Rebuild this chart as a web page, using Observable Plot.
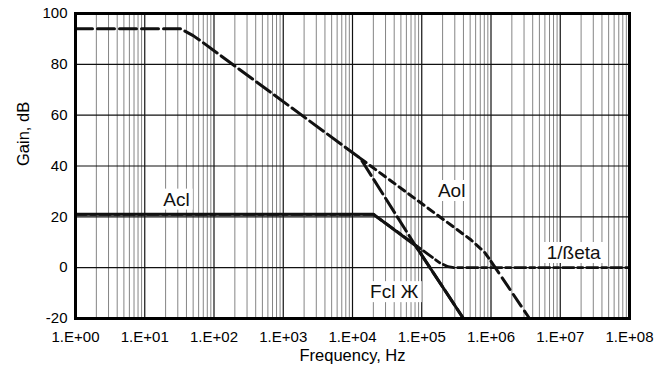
<!DOCTYPE html>
<html><head><meta charset="utf-8">
<script src="https://cdn.jsdelivr.net/npm/d3@7"></script>
<script src="https://cdn.jsdelivr.net/npm/@observablehq/plot@0.6"></script>
<style>
body{margin:0;background:#fff;}
#chart svg{display:block}
</style></head><body><div id="chart"></div>
<script>
// Axis ticks
const xTickValues = [1, 1e1, 1e2, 1e3, 1e4, 1e5, 1e6, 1e7, 1e8];
const xTickLabels = ["1.E+00","1.E+01","1.E+02","1.E+03","1.E+04","1.E+05","1.E+06","1.E+07","1.E+08"];
const yTickValues = [-20, 0, 20, 40, 60, 80, 100];
const yTickLabels = ["-20", "0", "20", "40", "60", "80", "100"];

// Long-dashed open-loop curve (94 dB, two poles)
const aolLongFreq = [1, 33, 50, 63, 13000, 81000, 400000];
const aolLongGain = [94, 94, 91.3, 89.4, 43, 8.7, -20];

// Short-dashed "Aol" continuation (upper part) and its long-dashed tail
const aolFreq = [13000, 500000, 800000, 1000000];
const aolGain = [43, 11.2, 6.2, 2.5];
const aolTailFreq = [1000000, 3500000];
const aolTailGain = [2.5, -19.5];

// Closed loop gain (solid)
const aclFreq = [1, 20000, 81000, 400000];
const aclGain = [21, 21, 8.7, -20];

// 1/Beta
const betaFreq = [1, 20000, 180000, 240000, 300000, 1e8];
const betaGain = [21, 21, 2.0, 0.4, 0, 0];

// Curve labels
const labelText = ["Acl", "Aol", "1/ßeta", "Fcl Ж"];
const labelFreq = [28.7, 270000, 15600000, 40000];
const labelGain = [26.8, 30.2, 5.8, -9.6];

const pts = (F, G) => F.map((f, i) => ({f, g: G[i]}));
const minor = [];
for (let e = 0; e < 8; e++) for (let k = 2; k <= 9; k++) minor.push(k * Math.pow(10, e));

const font = "Liberation Sans, Arial, Helvetica, sans-serif";

const chart = Plot.plot({
  width: 670, height: 369,
  marginLeft: 75, marginRight: 41, marginTop: 13, marginBottom: 51,
  style: {fontFamily: font, fontSize: "15px", background: "#fff", color: "#000"},
  x: {type: "log", domain: [1, 1e8]},
  y: {domain: [-20, 100]},
  marks: [
    Plot.ruleX(minor, {stroke: "#858585", strokeWidth: 1}),
    Plot.ruleX(xTickValues, {stroke: "#111", strokeWidth: 1.2}),
    Plot.ruleY(yTickValues, {stroke: "#111", strokeWidth: 1.2}),
    Plot.line(pts(betaFreq, betaGain), {x: "f", y: "g", stroke: "#111", strokeWidth: 2.8, strokeDasharray: "11,4,5,4"}),
    Plot.line(pts(aolFreq, aolGain), {x: "f", y: "g", stroke: "#111", strokeWidth: 3, strokeDasharray: "7,5"}),
    Plot.line(pts(aolTailFreq, aolTailGain), {x: "f", y: "g", stroke: "#111", strokeWidth: 3, strokeDasharray: "14,6"}),
    Plot.line(pts(aolLongFreq, aolLongGain), {x: "f", y: "g", stroke: "#111", strokeWidth: 3, strokeDasharray: "17,5"}),
    Plot.line(pts(aclFreq, aclGain), {x: "f", y: "g", stroke: "#111", strokeWidth: 3}),
    Plot.text(labelText, {x: (d, i) => labelFreq[i], y: (d, i) => labelGain[i], text: d => d, fontSize: 19, fill: "#111"}),
    Plot.frame({stroke: "#000", strokeWidth: 3}),
    Plot.axisX(xTickValues, {tickSize: 0, tickPadding: 13, tickFormat: d => xTickLabels[xTickValues.indexOf(d)], label: null, fontSize: 15}),
    Plot.axisY(yTickValues, {tickSize: 0, tickPadding: 8, tickFormat: d => yTickLabels[yTickValues.indexOf(d)], label: null, fontSize: 15}),
    Plot.text(["Frequency, Hz"], {frameAnchor: "bottom", dy: 42, fontSize: 16.5}),
    Plot.text(["Gain, dB"], {frameAnchor: "left", dx: -52, rotate: -90, fontSize: 16.5})
  ]
});
document.getElementById("chart").appendChild(chart);

// white boxes behind curve labels
const groups = chart.querySelectorAll('g[aria-label="text"]');
const lg = groups[0];
lg.querySelectorAll("text").forEach(t => {
  const b = t.getBBox();
  const r = document.createElementNS("http://www.w3.org/2000/svg", "rect");
  r.setAttribute("x", b.x - 3); r.setAttribute("y", b.y);
  r.setAttribute("width", b.width + 6); r.setAttribute("height", b.height);
  r.setAttribute("fill", "#fff");
  const tr = t.getAttribute("transform");
  if (tr) r.setAttribute("transform", tr);
  lg.insertBefore(r, lg.firstChild);
});
</script>
</body></html>
